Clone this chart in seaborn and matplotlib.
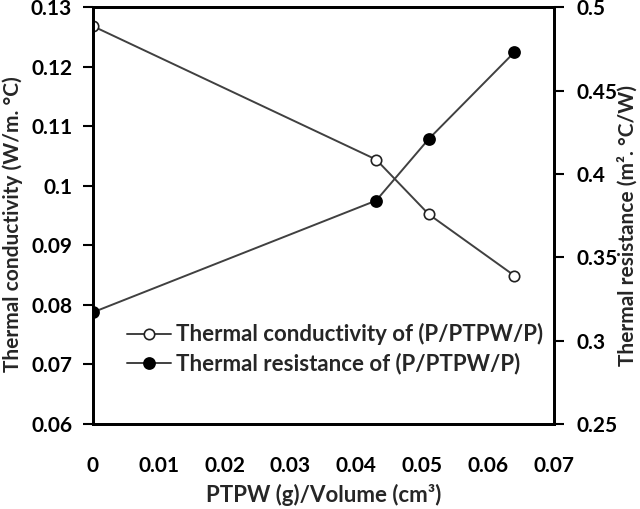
import numpy as np
import pandas as pd
import matplotlib
matplotlib.use('Agg')
import matplotlib.pyplot as plt
import seaborn as sns

# data
ptpw_volume = [0.0, 0.043, 0.051, 0.064]
conductivity = [0.1268, 0.1044, 0.0952, 0.0849]
resistance = [0.317, 0.384, 0.421, 0.473]

x_ticks = [0, 0.01, 0.02, 0.03, 0.04, 0.05, 0.06, 0.07]
x_tick_labels = ['0', '0.01', '0.02', '0.03', '0.04', '0.05', '0.06', '0.07']
left_ticks = [0.06, 0.07, 0.08, 0.09, 0.1, 0.11, 0.12, 0.13]
left_tick_labels = ['0.06', '0.07', '0.08', '0.09', '0.1', '0.11', '0.12', '0.13']
right_ticks = [0.25, 0.3, 0.35, 0.4, 0.45, 0.5]
right_tick_labels = ['0.25', '0.3', '0.35', '0.4', '0.45', '0.5']

sns.set_style('white')
plt.rcParams['font.family'] = ['Lato', 'DejaVu Sans']
plt.rcParams['font.weight'] = 'bold'

df = pd.DataFrame({'x': ptpw_volume, 'k': conductivity, 'r': resistance})

fig = plt.figure(figsize=(6.4, 5.09), dpi=100)
ax = fig.add_axes([0.1453, 0.167, 0.7203, 0.819])
ax2 = ax.twinx()

line_color = '#404040'
sns.lineplot(data=df, x='x', y='k', ax=ax, color=line_color, linewidth=1.4,
             marker='o', markersize=7.5, markerfacecolor='white',
             markeredgecolor='#222222', markeredgewidth=1.2,
             label='Thermal conductivity of (P/PTPW/P)', legend=False)
sns.lineplot(data=df, x='x', y='r', ax=ax2, color=line_color, linewidth=1.4,
             marker='o', markersize=8, markerfacecolor='black',
             markeredgecolor='black', markeredgewidth=1.2,
             label='Thermal resistance of (P/PTPW/P)', legend=False)

ax.set_xlim(0, 0.07)
ax.set_ylim(0.06, 0.13)
ax2.set_ylim(0.25, 0.5)
ax.set_xticks(x_ticks)
ax.set_xticklabels(x_tick_labels)
ax.set_yticks(left_ticks)
ax.set_yticklabels(left_tick_labels)
ax2.set_yticks(right_ticks)
ax2.set_yticklabels(right_tick_labels)

for a in (ax, ax2):
    for s in a.spines.values():
        s.set_linewidth(2)
        s.set_color('black')
    a.tick_params(direction='out', length=7, width=1.5, labelsize=15, colors='black')
ax.tick_params(axis='x', pad=16)
ax.tick_params(axis='y', pad=8)
ax2.tick_params(axis='y', pad=9)

ax.set_xlabel('PTPW (g)/Volume (cm³)', fontsize=16, fontweight='bold', labelpad=6)
ax.set_ylabel('Thermal conductivity (W/m. °C)', fontsize=15, fontweight='bold')
ax.yaxis.set_label_coords(-0.152, 0.48)
ax2.set_ylabel('Thermal resistance (m². °C/W)', fontsize=15, fontweight='bold')
ax2.yaxis.set_label_coords(1.138, 0.475)

h1, l1 = ax.get_legend_handles_labels()
h2, l2 = ax2.get_legend_handles_labels()
leg = ax.legend(h1 + h2, l1 + l2, loc='lower left', bbox_to_anchor=(0.03, 0.07),
                frameon=False, fontsize=16, handlelength=2.0, handletextpad=0.22,
                labelspacing=0.35)
for t in leg.get_texts():
    t.set_fontweight('bold')

fig.savefig('out.png', dpi=100)
